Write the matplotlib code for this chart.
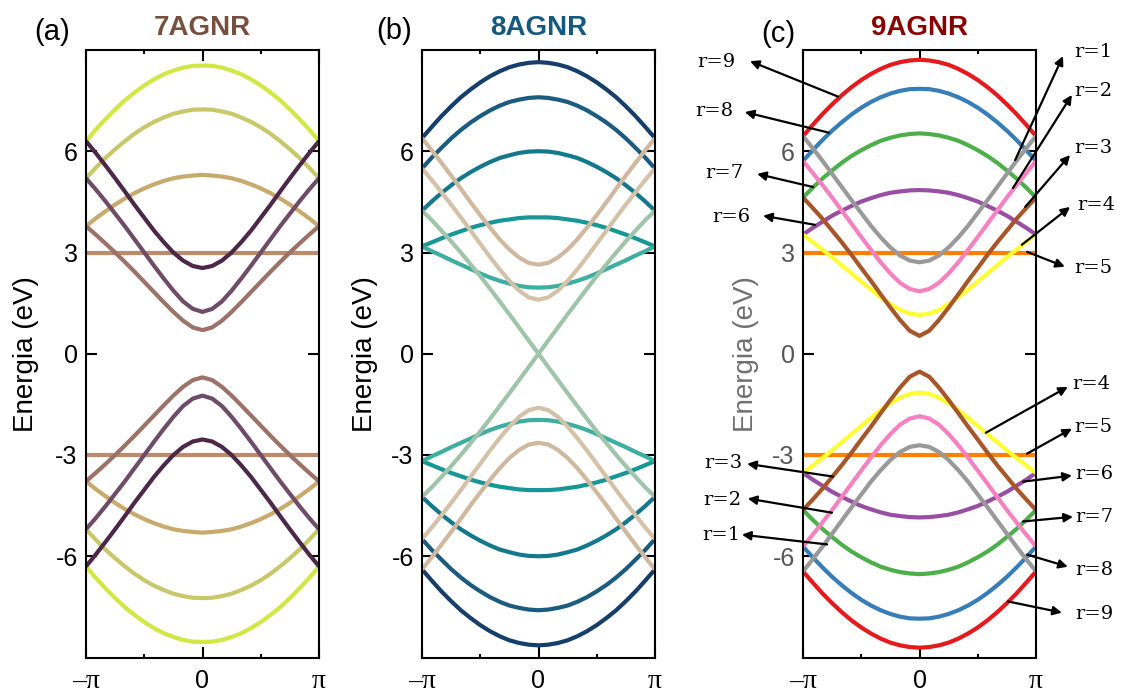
import numpy as np
import matplotlib
matplotlib.use("Agg")
import matplotlib.pyplot as plt

plt.rcParams['font.family'] = ['Liberation Sans', 'DejaVu Sans']
plt.rcParams['axes.unicode_minus'] = False

# k grid from 0 to pi (bands are even in k, so the left half is mirrored)
k_half = np.linspace(0, np.pi, 13)

# conduction subbands E_r(k) in eV, r = 1..N; valence bands are -E
bands_7 = [
    [8.54, 8.53, 8.48, 8.39, 8.28, 8.13, 7.95, 7.74, 7.51, 7.24, 6.95, 6.64, 6.30],
    [7.24, 7.23, 7.18, 7.11, 7.00, 6.87, 6.71, 6.52, 6.30, 6.06, 5.80, 5.51, 5.20],
    [5.30, 5.28, 5.25, 5.20, 5.12, 5.02, 4.90, 4.76, 4.60, 4.42, 4.22, 4.01, 3.78],
    [3.00, 3.00, 3.00, 3.00, 3.00, 3.00, 3.00, 3.00, 3.00, 3.00, 3.00, 3.00, 3.00],
    [0.70, 0.78, 0.98, 1.24, 1.53, 1.83, 2.13, 2.43, 2.72, 3.00, 3.27, 3.53, 3.78],
    [1.24, 1.33, 1.55, 1.87, 2.23, 2.61, 3.00, 3.39, 3.78, 4.15, 4.52, 4.87, 5.20],
    [2.54, 2.60, 2.76, 3.00, 3.31, 3.65, 4.03, 4.41, 4.81, 5.20, 5.58, 5.95, 6.30],
]
bands_8 = [
    [8.64, 8.62, 8.57, 8.49, 8.37, 8.22, 8.04, 7.83, 7.60, 7.33, 7.04, 6.72, 6.39],
    [7.60, 7.58, 7.53, 7.46, 7.35, 7.21, 7.04, 6.85, 6.63, 6.38, 6.10, 5.81, 5.49],
    [6.00, 5.99, 5.95, 5.88, 5.80, 5.68, 5.54, 5.38, 5.20, 4.99, 4.76, 4.51, 4.24],
    [4.04, 4.04, 4.02, 3.98, 3.94, 3.88, 3.81, 3.73, 3.63, 3.53, 3.42, 3.30, 3.18],
    [1.96, 1.97, 2.01, 2.08, 2.16, 2.26, 2.38, 2.51, 2.64, 2.77, 2.91, 3.04, 3.18],
    [0.00, 0.39, 0.78, 1.17, 1.55, 1.93, 2.30, 2.65, 3.00, 3.33, 3.65, 3.96, 4.24],
    [1.60, 1.67, 1.87, 2.16, 2.50, 2.87, 3.26, 3.65, 4.04, 4.42, 4.79, 5.15, 5.49],
    [2.64, 2.69, 2.85, 3.09, 3.39, 3.74, 4.11, 4.49, 4.89, 5.28, 5.66, 6.03, 6.39],
]
bands_9 = [
    [8.71, 8.69, 8.64, 8.56, 8.44, 8.29, 8.11, 7.90, 7.66, 7.39, 7.10, 6.78, 6.45],
    [7.85, 7.84, 7.79, 7.71, 7.60, 7.46, 7.29, 7.09, 6.86, 6.61, 6.33, 6.03, 5.71],
    [6.53, 6.51, 6.47, 6.40, 6.31, 6.18, 6.03, 5.86, 5.66, 5.43, 5.19, 4.92, 4.63],
    [4.85, 4.84, 4.81, 4.77, 4.70, 4.61, 4.51, 4.38, 4.24, 4.09, 3.91, 3.73, 3.53],
    [3.00, 3.00, 3.00, 3.00, 3.00, 3.00, 3.00, 3.00, 3.00, 3.00, 3.00, 3.00, 3.00],
    [1.15, 1.19, 1.30, 1.47, 1.67, 1.90, 2.14, 2.38, 2.62, 2.86, 3.09, 3.31, 3.53],
    [0.53, 0.68, 1.00, 1.37, 1.76, 2.16, 2.54, 2.93, 3.30, 3.65, 4.00, 4.32, 4.63],
    [1.85, 1.92, 2.10, 2.38, 2.71, 3.08, 3.46, 3.85, 4.24, 4.63, 5.00, 5.36, 5.71],
    [2.71, 2.76, 2.91, 3.15, 3.45, 3.79, 4.17, 4.55, 4.94, 5.33, 5.72, 6.09, 6.45],
]

colors_7 = ['#d0e843', '#c8c86a', '#c8aa6c', '#b88c6c', '#9c7268', '#6e4c68', '#4c2848']
colors_8 = ['#153e6b', '#1b5b80', '#14788c', '#179696', '#3eaea0', '#a0c4aa', '#d4c2a8', '#d0b89e']
colors_9 = ['#e41a1c', '#377eb8', '#4daf4a', '#984ea3', '#ff7f00', '#ffff33', '#a65628', '#f781bf', '#999999']

titles = ['7AGNR', '8AGNR', '9AGNR']
title_colors = ['#76503e', '#145a80', '#8b0000']
letters = ['(a)', '(b)', '(c)']
letter_pos = [(52, 31.5), (394, 31), (778, 34)]  # pixels
yticks = [-6, -3, 0, 3, 6]
xticks = [-np.pi, 0, np.pi]
xticklabels = ['\u2013\u03c0', '0', '\u03c0']

# r-labels on the 9AGNR panel: text, text (k, E), arrow head (k, E), arrow tail (k, E)
r_labels = [
    ('r=9', (-5.47, 8.64), (-4.57, 8.67), (-2.20, 7.62)),
    ('r=8', (-5.54, 7.19), (-4.71, 7.16), (-2.44, 6.55)),
    ('r=7', (-5.26, 5.36), (-4.38, 5.33), (-2.87, 4.94)),
    ('r=6', (-5.07, 4.06), (-4.22, 4.09), (-2.82, 3.82)),
    ('r=1', (4.69, 8.94), (3.87, 8.82), (2.58, 5.74)),
    ('r=2', (4.69, 7.79), (4.11, 7.67), (2.52, 4.91)),
    ('r=3', (4.69, 6.10), (4.06, 5.89), (2.85, 4.35)),
    ('r=4', (4.76, 4.41), (4.06, 4.35), (2.76, 3.23)),
    ('r=5', (4.69, 2.55), (3.92, 2.58), (2.90, 3.02)),
    ('r=4', (4.64, -0.89), (4.00, -0.98), (1.79, -2.34)),
    ('r=5', (4.69, -2.16), (4.11, -2.22), (2.90, -2.96)),
    ('r=6', (4.71, -3.55), (4.11, -3.61), (2.79, -3.79)),
    ('r=7', (4.71, -4.83), (4.14, -4.83), (2.79, -4.97)),
    ('r=8', (4.71, -6.42), (4.00, -6.31), (2.90, -5.95)),
    ('r=9', (4.71, -7.70), (3.84, -7.67), (2.39, -7.34)),
    ('r=3', (-5.29, -3.23), (-4.65, -3.26), (-2.33, -3.64)),
    ('r=2', (-5.31, -4.32), (-4.63, -4.29), (-2.36, -4.71)),
    ('r=1', (-5.35, -5.36), (-4.79, -5.36), (-2.49, -5.65)),
]

W, H = 1121, 698
fig = plt.figure(figsize=(W / 100, H / 100), dpi=100)

lefts = [86, 422, 803]
ax_w, ax_top, ax_bot = 233, 50, 657.5
label_x = [-0.20, -0.19, -0.19]

k_full = np.concatenate([-k_half[:0:-1], k_half])

for i, (bands, colors) in enumerate([(bands_7, colors_7), (bands_8, colors_8), (bands_9, colors_9)]):
    ax = fig.add_axes([lefts[i] / W, (H - ax_bot) / H, ax_w / W, (ax_bot - ax_top) / H])
    for E, c in zip(bands, colors):
        E = np.asarray(E)
        e_full = np.concatenate([E[:0:-1], E])
        ax.plot(k_full, e_full, color=c, lw=3, solid_capstyle='butt')
        ax.plot(k_full, -e_full, color=c, lw=3, solid_capstyle='butt')

    ax.set_xlim(-np.pi, np.pi)
    ax.set_ylim(-9, 9)
    ax.set_xticks(xticks)
    ax.set_xticklabels(xticklabels)
    ax.set_xticks([-np.pi / 2, np.pi / 2], minor=True)
    ax.set_yticks(yticks)
    ax.set_yticklabels([str(v) for v in yticks])
    ax.tick_params(which='both', direction='in', top=True, right=True, width=1.5)
    ax.tick_params(which='major', length=8)
    ax.tick_params(which='minor', length=3)
    ax.tick_params(axis='y', labelsize=18, pad=6)
    ax.tick_params(axis='x', labelsize=18, pad=8)
    for lab in ax.get_xticklabels():
        if lab.get_text() != '0':
            lab.set_fontfamily('Liberation Serif')
            lab.set_fontsize(20)
    for sp in ax.spines.values():
        sp.set_linewidth(1.5)

    ax.set_title(titles[i], fontsize=20, fontweight='bold', color=title_colors[i], pad=11)
    ax.set_ylabel('Energia (eV)', fontsize=20)
    ax.yaxis.set_label_coords(label_x[i], 0.5)
    fig.text(letter_pos[i][0] / W, 1 - letter_pos[i][1] / H, letters[i],
             ha='center', va='center', fontsize=21)

    if i == 2:
        ax.tick_params(axis='y', labelcolor='#555555')
        ax.yaxis.label.set_color('#707070')
        for text, tpos, head, tail in r_labels:
            ax.annotate('', xy=head, xytext=tail, annotation_clip=False,
                        arrowprops=dict(arrowstyle='-|>', color='black', lw=1.6,
                                        mutation_scale=13, shrinkA=0, shrinkB=0))
            ax.text(tpos[0], tpos[1], text, ha='center', va='center', fontsize=14,
                    family='DejaVu Serif', clip_on=False)

fig.savefig('out.png', dpi=100)
